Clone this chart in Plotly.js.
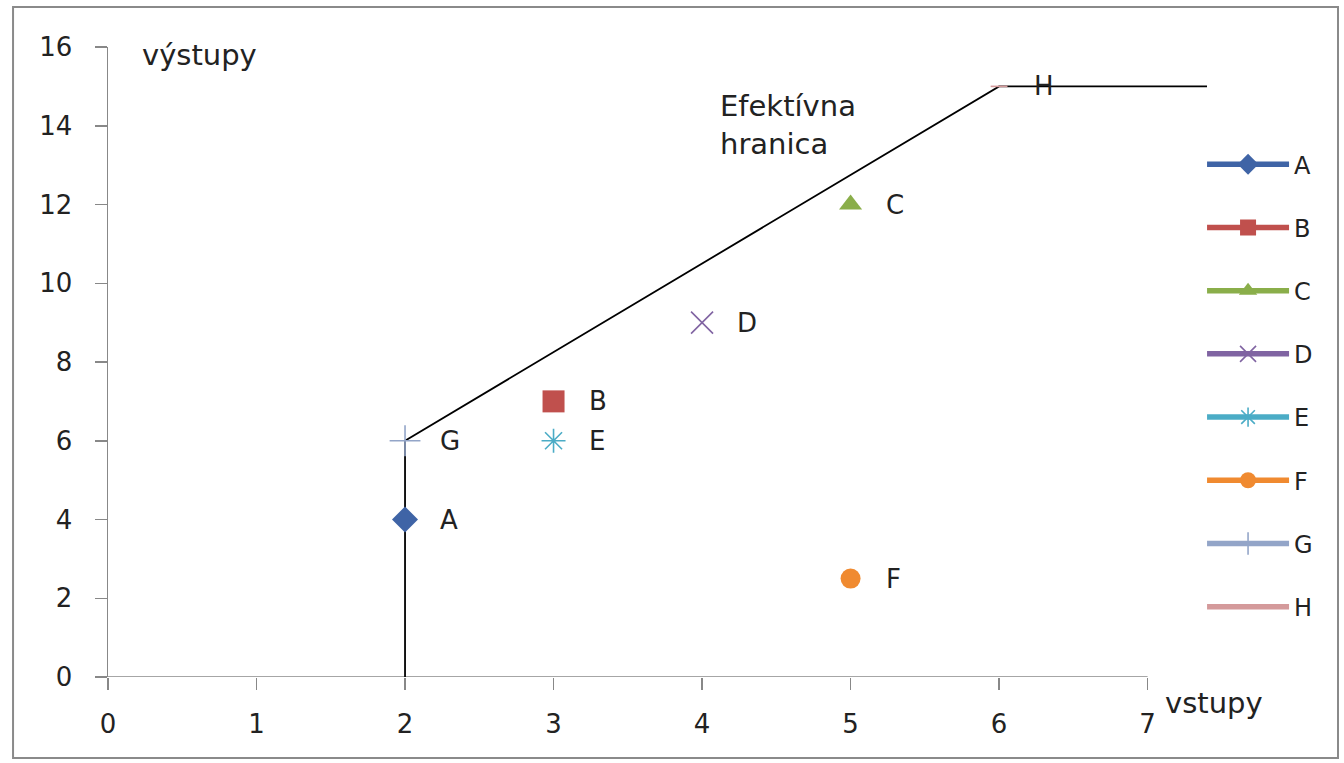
<!DOCTYPE html>
<html>
<head>
<meta charset="utf-8">
<script src="https://cdn.plot.ly/plotly-3.0.1.min.js"></script>
<style>
html,body{margin:0;padding:0;background:#fff;}
#chart{width:1344px;height:763px;}
</style>
</head>
<body>
<div id="chart"></div>
<script>
// Data
const names = ['A','B','C','D','E','F','G','H'];
const vstupy = [2,3,5,4,3,5,2,6];
const vystupy = [4,7,12,9,6,2.5,6,15];
const frontierX = [2,2,6,7.4];
const frontierY = [0,6,15,15];
const xTicks = [0,1,2,3,4,5,6,7];
const yTicks = [0,2,4,6,8,10,12,14,16];

const colors = ['#3F64A6','#C0504D','#8AAE4A','#8064A2','#4BACC6','#F08A30','#93A5C8','#D49A9B'];
const symbols = ['diamond','square','triangle-up','x-thin-open','asterisk-open','circle','cross-thin-open','line-ew-open'];
const sizes = [20,22,20,22,20,20,22,12];

const FONT = 'DejaVu Sans, Verdana, sans-serif';
const TXT = '#222';

const traces = [];
traces.push({
  x: frontierX, y: frontierY, mode:'lines', type:'scatter',
  line:{color:'#000', width:1.8}, showlegend:false, hoverinfo:'skip'
});
names.forEach((n,i)=>{
  const open = symbols[i].indexOf('open')>=0;
  traces.push({
    x:[vstupy[i]], y:[vystupy[i]], name:n, type:'scatter', mode:'lines+markers',
    legendgroup:n,
    line:{color:colors[i], width:5.5},
    marker:{symbol:symbols[i], size:sizes[i], color:colors[i],
            line:{color:colors[i], width: open?1.6:0}},
    cliponaxis:false
  });
});

const annotations = names.map((n,i)=>({
  x:vstupy[i], y:vystupy[i], xref:'x', yref:'y', text:n, showarrow:false,
  xanchor:'left', yanchor:'middle', xshift:33,
  font:{family:FONT, size:26, color:TXT}
}));
annotations.push({xref:'paper', yref:'paper', x:0.029, y:0.987, text:'výstupy',
  showarrow:false, xanchor:'left', yanchor:'middle', font:{family:FONT,size:29,color:TXT}});
annotations.push({xref:'paper', yref:'paper', x:0.96, y:-0.041, text:'vstupy',
  showarrow:false, xanchor:'left', yanchor:'middle', font:{family:FONT,size:29,color:TXT}});
annotations.push({xref:'paper', yref:'paper', x:0.555, y:0.937, text:'Efektívna<br>hranica',
  showarrow:false, xanchor:'left', yanchor:'top', align:'left', font:{family:FONT,size:29,color:TXT}});

const layout = {
  width:1344, height:763,
  margin:{l:108, r:137, t:47, b:86},
  paper_bgcolor:'#fff', plot_bgcolor:'#fff',
  showlegend:true,
  legend:{x:0.9955, xanchor:'left', y:0.849, yanchor:'top', tracegroupgap:29,
    font:{family:FONT, size:24, color:TXT}, bgcolor:'rgba(0,0,0,0)', itemwidth:82},
  xaxis:{range:[0,7.4], tickvals:xTicks, ticktext:xTicks.map(String), showgrid:false, zeroline:false,
    showline:false, ticks:'outside', ticklen:12, tickcolor:'#888', tickwidth:1.5, ticklabelstandoff:12,
    tickfont:{family:FONT,size:26,color:TXT}},
  yaxis:{range:[0,16], tickvals:yTicks, ticktext:yTicks.map(String), showgrid:false, zeroline:false,
    showline:true, linecolor:'#888', linewidth:1.5, ticks:'outside', ticklen:12, tickcolor:'#888', tickwidth:1.5,
    ticklabelstandoff:17, tickfont:{family:FONT,size:26,color:TXT}},
  shapes:[
    {type:'line', xref:'x', yref:'y', x0:0, x1:7, y0:0, y1:0, line:{color:'#888', width:1.5}, layer:'below'},
    {type:'rect', xref:'paper', yref:'paper', x0:-0.0864, x1:1.1192, y0:-0.1286, y1:1.0635,
     line:{color:'#8a8a8a', width:2}, fillcolor:'rgba(0,0,0,0)'}
  ],
  annotations:annotations
};

Plotly.newPlot('chart', traces, layout, {displayModeBar:false, staticPlot:true});
</script>
</body>
</html>
